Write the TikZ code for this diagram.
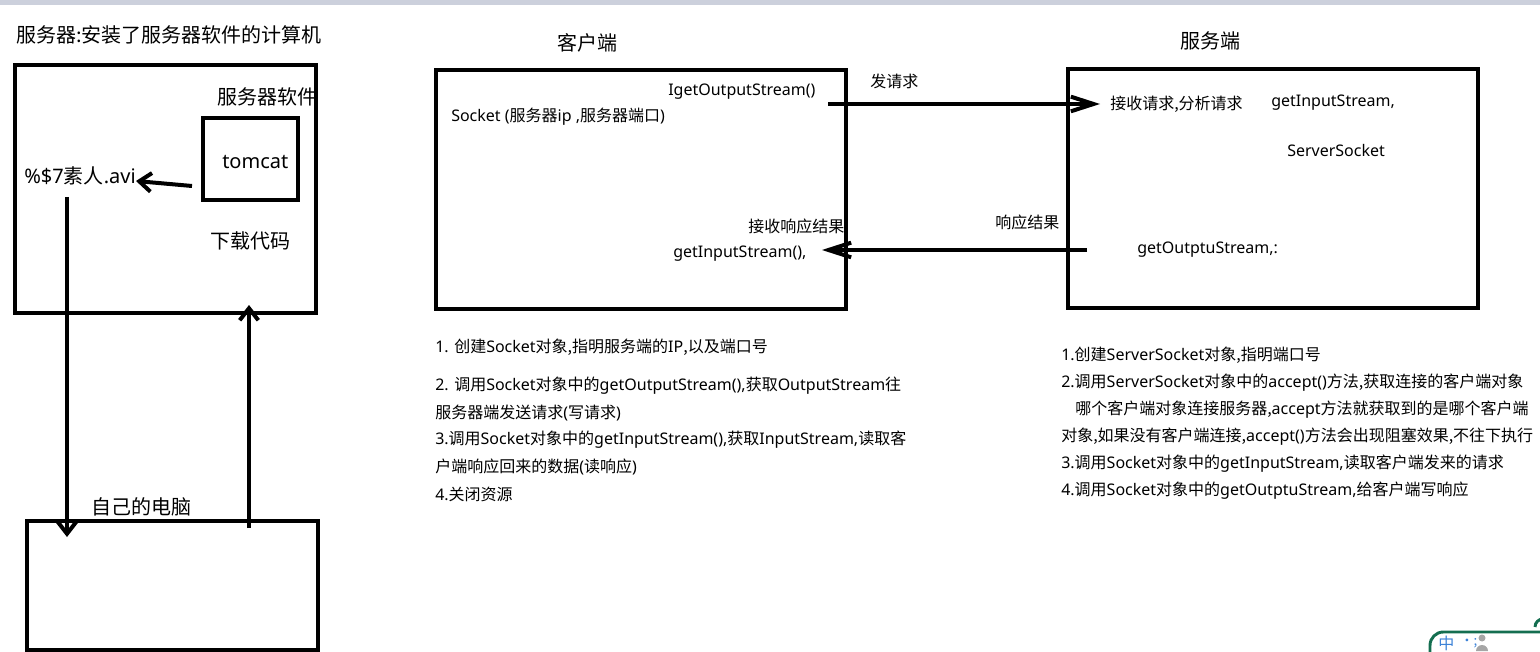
\documentclass[tikz,border=0pt]{standalone}
\usepackage{fontspec}
\setmainfont{Noto Sans CJK SC}
\newfontfamily\latf{Noto Sans}
\newcommand\lat[1]{{\latf #1}}
\usetikzlibrary{arrows.meta,fit}
\definecolor{barg}{RGB}{204,208,220}
\definecolor{imeg}{RGB}{20,110,80}
\definecolor{imeb}{RGB}{60,130,215}
\begin{document}
\begin{tikzpicture}[x=0.75pt,y=-0.75pt,
  frame/.style={draw=black,line width=3pt,inner sep=0pt},
  lbl/.style={anchor=west,inner sep=0pt,font=\fontsize{12pt}{14pt}\selectfont},
  big/.style={anchor=west,inner sep=0pt,font=\fontsize{15pt}{18pt}\selectfont},
  lst/.style={anchor=west,inner sep=0pt,font=\fontsize{12pt}{14pt}\selectfont},
  conn/.style={line width=3pt,-{Straight Barb[length=9pt,width=14pt,line width=3pt]}},
  longtip/.style={line width=3pt,-{Straight Barb[length=17pt,width=11pt,line width=3pt]}}]
\useasboundingbox (0,0) rectangle (1540,652);
\fill[barg] (0,0) rectangle (1540,5);

% left part
\node[anchor=west,inner sep=0pt,font=\fontsize{15pt}{17pt}\selectfont] (title) at (16,35) {服务器:安装了服务器软件的计算机};
\node[frame,fit={(15,65)(316,313)}] (srv) {};
\node[big] (swlbl) at (217,97) {服务器软件};
\node[frame,fit={(203,118)(298,200)}] (tomcat) {};
\node[big] (tc) at (222,162) {\lat{tomcat}};
\node[big] (avi) at (24,176) {\lat{\%\$7}素人\lat{.avi}};
\node[big] (dl) at (210,241) {下载代码};
\node[big] (pclbl) at (91,507) {自己的电脑};
\node[frame,fit={(27,521)(318,650)}] (pc) {};
\coordinate (t1) at (192,186);
\coordinate (t2) at (136,181);
\draw[conn] (t1) -- (t2);
\coordinate (d1) at (67,197);
\coordinate (d2) at (67,537);
\draw[conn] (d1) -- (d2);
\coordinate (u1) at (249,528);
\coordinate (u2) at (249,305);
\draw[conn] (u1) -- (u2);

% client
\node[big] (cl) at (557,43) {客户端};
\node[frame,fit={(436,70)(846,309)}] (client) {};
\node[lbl] (gos) at (668,92) {\lat{IgetOutputStream()}};
\node[lbl] (sock) at (451,117) {\lat{Socket (}服务器\lat{ip ,}服务器端口\lat{)}};
\node[lbl] (rcv) at (748,226) {接收响应结果};
\node[lbl] (gis) at (673,254) {\lat{getInputStream(),}};

% server
\node[big] (sv) at (1180,41) {服务端};
\node[frame,fit={(1068,69)(1478,308)}] (server) {};
\node[lbl] (req) at (1110,104) {接收请求,分析请求};
\node[lbl] (sgis) at (1271,103) {\lat{getInputStream,}};
\node[lbl] (ss) at (1287,151) {\lat{ServerSocket}};
\node[lbl] (sgos) at (1137,250) {\lat{getOutptuStream,:}};

% connectors between client and server
\node[lbl] (fq) at (870,81) {发请求};
\node[lbl] (xy) at (995,222) {响应结果};
\coordinate (r1) at (828,104);
\coordinate (r2) at (1100,104);
\draw[longtip] (r1) -- (r2);
\coordinate (p1) at (1087,250);
\coordinate (p2) at (822,250);
\draw[longtip] (p1) -- (p2);

% client steps
\node[lst] (c1) at (435,347) {\lat{1. }创建\lat{Socket}对象,指明服务端的\lat{IP},以及端口号};
\node[lst] (c2) at (435,386) {\lat{2. }调用\lat{Socket}对象中的\lat{getOutputStream(),}获取\lat{OutputStream}往};
\node[lst] (c3) at (435,413) {服务器端发送请求\lat{(}写请求\lat{)}};
\node[lst] (c4) at (435,440) {\lat{3.}调用\lat{Socket}对象中的\lat{getInputStream(),}获取\lat{InputStream,}读取客};
\node[lst] (c5) at (435,467) {户端响应回来的数据\lat{(}读响应\lat{)}};
\node[lst] (c6) at (435,494) {\lat{4.}关闭资源};

% server steps
\node[lst] (s1) at (1061,355) {\lat{1.}创建\lat{ServerSocket}对象,指明端口号};
\node[lst] (s2) at (1061,383) {\lat{2.}调用\lat{ServerSocket}对象中的\lat{accept()}方法,获取连接的客户端对象};
\node[lst] (s3) at (1075,410) {哪个客户端对象连接服务器,\lat{accept}方法就获取到的是哪个客户端};
\node[lst] (s4) at (1061,437) {对象,如果没有客户端连接,\lat{accept()}方法会出现阻塞效果,不往下执行};
\node[lst] (s5) at (1061,464) {\lat{3.}调用\lat{Socket}对象中的\lat{getInputStream,}读取客户端发来的请求};
\node[lst] (s6) at (1061,491) {\lat{4.}调用\lat{Socket}对象中的\lat{getOutptuStream,}给客户端写响应};

% IME toolbar
\draw[imeg,line width=2.2pt,rounded corners=10pt] (1430,660) -- (1430,632) -- (1540,632);
\draw[imeg,line width=2.2pt] (1535,627) arc (180:270:8) ;
\node[anchor=west,inner sep=0pt,text=imeb,font=\fontsize{12pt}{14pt}\selectfont] (ime) at (1438,643) {中};
\node[anchor=west,inner sep=0pt,text=imeb,font=\fontsize{10pt}{12pt}\selectfont] (imep) at (1460,643) {•;};
\fill[gray!70] (1482,638) circle (3.5);
\fill[gray!70] (1476,651) arc (180:360:6 and 6) -- cycle;
\end{tikzpicture}
\end{document}
